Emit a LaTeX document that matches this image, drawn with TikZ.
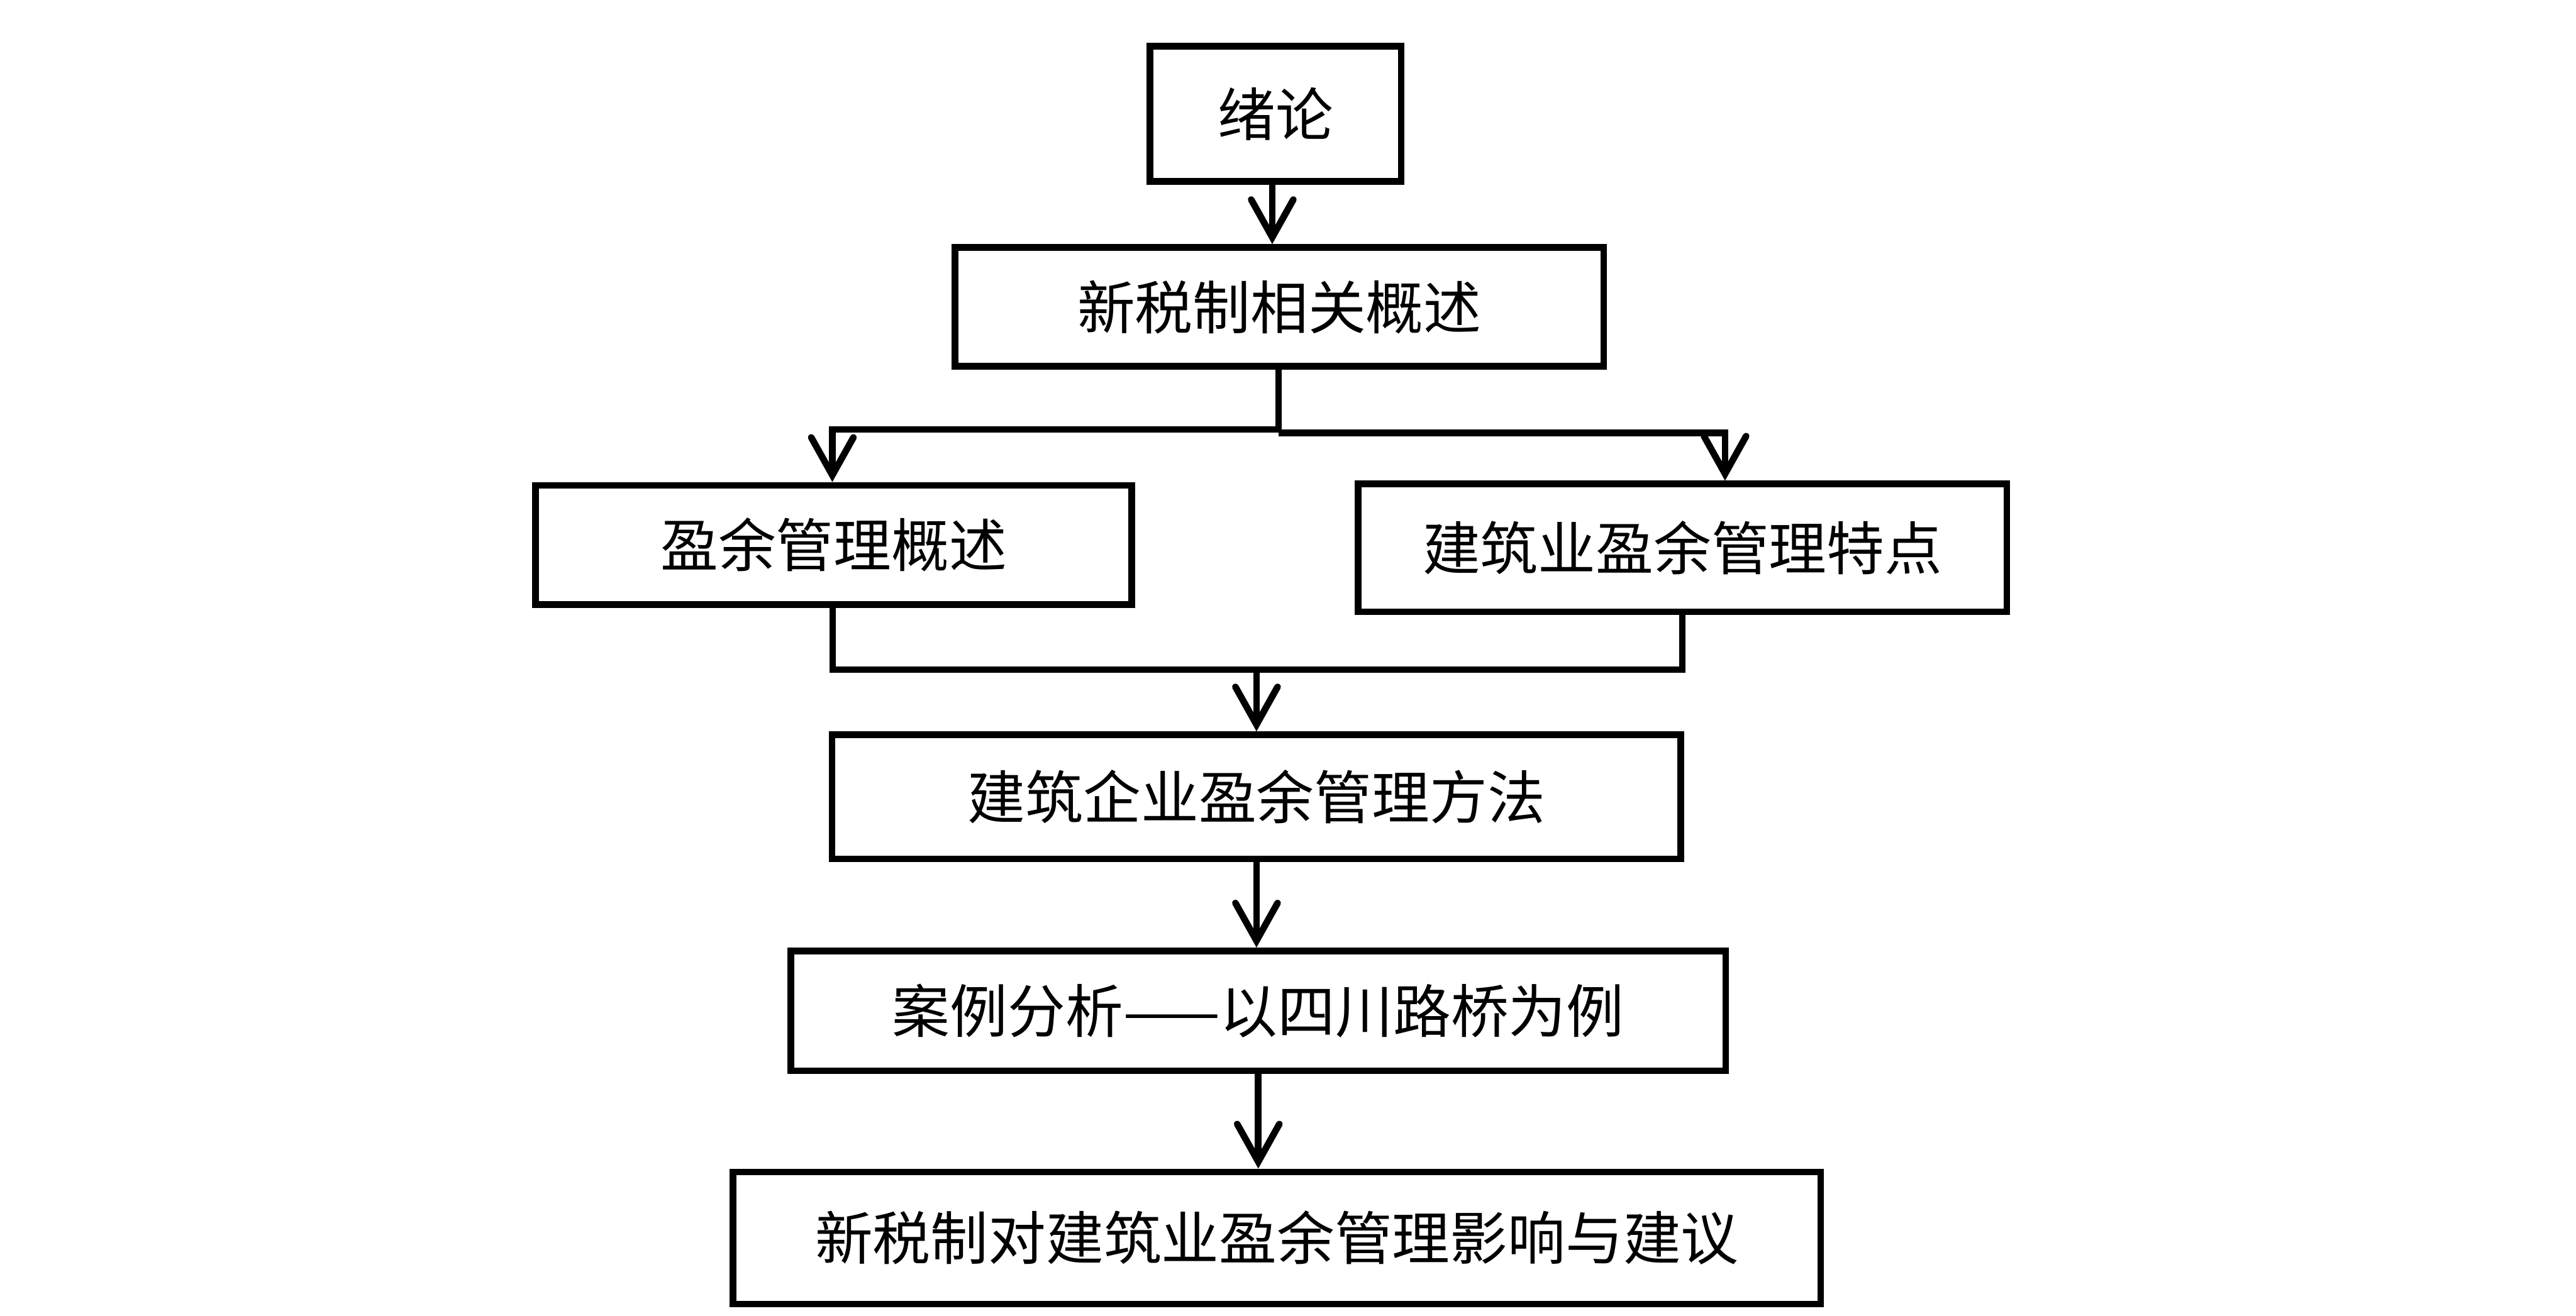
\documentclass[tikz,border=0pt]{standalone}
\usepackage{fontspec}
\IfFontExistsTF{FandolSong-Regular.otf}{\setmainfont{FandolSong-Regular.otf}}{\setmainfont{Noto Sans CJK SC}}
\usetikzlibrary{arrows.meta,calc}
\begin{document}
\begin{tikzpicture}[
  box/.style={draw=black, line width=0.15cm, rectangle, inner sep=0pt,
    font=\fontsize{37pt}{44pt}\selectfont},
  conn/.style={draw=black, line width=0.15cm},
  arr/.style={conn, -{Straight Barb[length=0.85cm, width=0.95cm, line cap=round, line join=miter]}}
]
\fill[white] (0,0) rectangle (58.03,-29.64);
\useasboundingbox (0,0) rectangle (58.03,-29.64);

\node[box, minimum width=5.66cm, minimum height=3.04cm] (b1) at (28.735,-2.565) {绪论};
\node[box, minimum width=14.61cm, minimum height=2.68cm] (b2) at (28.82,-6.915) {新税制相关概述};
\node[box, minimum width=13.43cm, minimum height=2.69cm] (b3) at (18.78,-12.28) {盈余管理概述};
\node[box, minimum width=14.615cm, minimum height=2.88cm] (b4) at (37.90,-12.345) {建筑业盈余管理特点};
\node[box, minimum width=19.12cm, minimum height=2.80cm] (b5) at (28.305,-17.955) {建筑企业盈余管理方法};
\node[box, minimum width=21.06cm, minimum height=2.70cm] (b6) at (28.345,-22.775) {案例分析——以四川路桥为例};
\node[box, minimum width=24.50cm, minimum height=2.98cm] (b7) at (28.765,-27.895) {新税制对建筑业盈余管理影响与建议};

% 绪论 -> 新税制相关概述
\draw[arr] ([xshift=-0.075cm]b1.south) -- ([xshift=-0.075cm]b1.south |- b2.north);

% 新税制相关概述 -> two branches
\draw[conn] ([xshift=-0.02cm]b2.south) -- ++(0,-1.42) coordinate (j);
\coordinate (jl) at ($(j)+(0,0.075)$);
\draw[arr] (jl) -| ([xshift=-0.03cm]b3.north);
\draw[arr] (j) -| ([xshift=0.96cm]b4.north);

% two branches -> 建筑企业盈余管理方法
\coordinate (m) at (0,-15.09);
\draw[conn] ([xshift=-0.02cm]b3.south) |- (m -| b4.south) -- (b4.south);
\draw[arr] (m -| b5.north) -- (b5.north);

% 建筑企业盈余管理方法 -> 案例分析
\draw[arr] (b5.south) -- (b5.south |- b6.north);

% 案例分析 -> 新税制对...
\draw[arr] (b6.south) -- (b6.south |- b7.north);
\end{tikzpicture}
\end{document}
